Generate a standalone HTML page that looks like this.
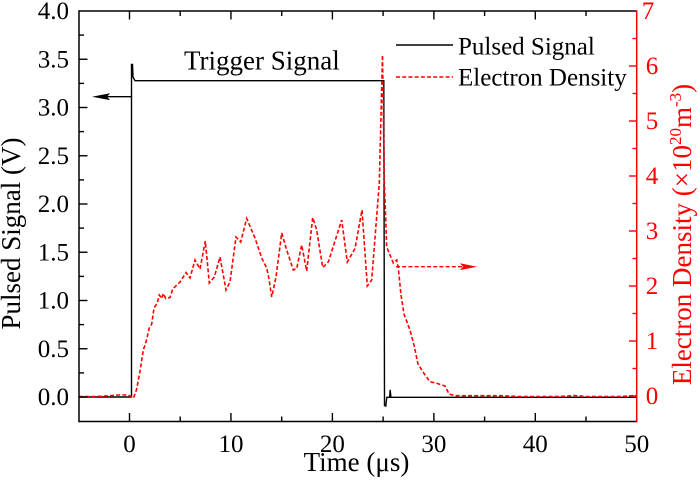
<!DOCTYPE html>
<html><head><meta charset="utf-8"><style>
html,body{margin:0;padding:0;background:#fff;}
svg{display:block;}
text{font-family:"Liberation Serif","Times New Roman",serif;}
</style></head><body>
<svg width="700" height="490" viewBox="0 0 700 490" xmlns="http://www.w3.org/2000/svg" font-family="Liberation Serif, serif">
<rect x="0" y="0" width="700" height="490" fill="#fff"/>

<!-- black pulsed signal -->
<path d="M79,397 L131.5,397 L131.5,64.5 L132.5,64.5 L133,77 L135,80.7 L383.8,80.7 L384.5,405.5 L385.8,406 L386.8,397.3 L389.6,397.3 L390.2,389.8 L390.9,397.3 L636.7,397.3" fill="none" stroke="#000" stroke-width="1.4"/>

<!-- red electron density -->
<polyline fill="none" stroke="#ff0000" stroke-width="1.6" stroke-dasharray="4 2.2" points="79,396.5 95,396.5 105,396 112,395.5 118,395 128,395 131,396.5 133.5,398 136.7,389 140,371 143.3,350 146,342 149.3,328 151.7,324 154,308 157.3,303 159.3,295 161.7,298.5 163.3,293.5 165.7,298.5 170,297.5 172.7,289 180,282 186,272.5 190,278 195,260 200,269 205.3,241 209.3,283 214.3,277 220,257 226,290 230,282 236,237 240.7,242 246.7,218.5 255,238 261.7,258 266.7,268 269,279 271.7,297 276,277 281.7,233 286.7,250 293.3,270 296.7,268.5 301.7,245 306.7,271 312.7,217.5 316.7,230 322.7,267.5 328.3,262 341.7,220 347.3,262 355,248.5 362,210 367.3,286 371.7,280 379.3,183 382.5,55 384.3,180 386.7,247 393.3,263 396.7,260 398.3,268 401,295 404,314 410,330 414,345 418,364 425,375 430,381.7 436.7,383.3 445,386 449,394 455,395.7 500,395.7 520,396.5 560,396.5 575,395.5 585,396.5 620,396.5 636,395.5"/>

<!-- arrows -->
<line x1="132" y1="96.7" x2="106" y2="96.7" stroke="#000" stroke-width="1.4"/>
<polygon points="92,96.7 110,93.3 107,96.7 110,100.1" fill="#000"/>
<line x1="396" y1="266.7" x2="462" y2="266.7" stroke="#ff0000" stroke-width="1.4" stroke-dasharray="4 2.2"/>
<polygon points="477,266.7 460,263.3 463,266.7 460,270.1" fill="#ff0000"/>

<!-- axes frame -->
<line x1="79" y1="11" x2="636.7" y2="11" stroke="#000" stroke-width="1.5"/>
<line x1="79" y1="421.5" x2="636.7" y2="421.5" stroke="#000" stroke-width="1.5"/>
<line x1="79" y1="10.3" x2="79" y2="422.2" stroke="#000" stroke-width="1.5"/>
<line x1="636.7" y1="10.3" x2="636.7" y2="422.2" stroke="#ff0000" stroke-width="1.5"/>

<!-- bottom & top ticks -->
<g stroke="#000" stroke-width="1.4">
<line x1="129.5" y1="421.5" x2="129.5" y2="413"/><line x1="230.95" y1="421.5" x2="230.95" y2="413"/><line x1="332.4" y1="421.5" x2="332.4" y2="413"/><line x1="433.9" y1="421.5" x2="433.9" y2="413"/><line x1="535.3" y1="421.5" x2="535.3" y2="413"/>
<line x1="180.2" y1="421.5" x2="180.2" y2="416.5"/><line x1="281.7" y1="421.5" x2="281.7" y2="416.5"/><line x1="383.1" y1="421.5" x2="383.1" y2="416.5"/><line x1="484.6" y1="421.5" x2="484.6" y2="416.5"/><line x1="586" y1="421.5" x2="586" y2="416.5"/>
<line x1="129.5" y1="11" x2="129.5" y2="19.5"/><line x1="230.95" y1="11" x2="230.95" y2="19.5"/><line x1="332.4" y1="11" x2="332.4" y2="19.5"/><line x1="433.9" y1="11" x2="433.9" y2="19.5"/><line x1="535.3" y1="11" x2="535.3" y2="19.5"/>
<line x1="180.2" y1="11" x2="180.2" y2="16"/><line x1="281.7" y1="11" x2="281.7" y2="16"/><line x1="383.1" y1="11" x2="383.1" y2="16"/><line x1="484.6" y1="11" x2="484.6" y2="16"/><line x1="586" y1="11" x2="586" y2="16"/>
<!-- left ticks -->
<line x1="79" y1="397" x2="87.5" y2="397"/><line x1="79" y1="348.75" x2="87.5" y2="348.75"/><line x1="79" y1="300.5" x2="87.5" y2="300.5"/><line x1="79" y1="252.25" x2="87.5" y2="252.25"/><line x1="79" y1="204" x2="87.5" y2="204"/><line x1="79" y1="155.75" x2="87.5" y2="155.75"/><line x1="79" y1="107.5" x2="87.5" y2="107.5"/><line x1="79" y1="59.25" x2="87.5" y2="59.25"/>
<line x1="79" y1="372.9" x2="84" y2="372.9"/><line x1="79" y1="324.6" x2="84" y2="324.6"/><line x1="79" y1="276.4" x2="84" y2="276.4"/><line x1="79" y1="228.1" x2="84" y2="228.1"/><line x1="79" y1="179.9" x2="84" y2="179.9"/><line x1="79" y1="131.6" x2="84" y2="131.6"/><line x1="79" y1="83.4" x2="84" y2="83.4"/><line x1="79" y1="35.1" x2="84" y2="35.1"/>
</g>
<!-- right ticks -->
<g stroke="#ff0000" stroke-width="1.4">
<line x1="636.7" y1="396" x2="629" y2="396"/><line x1="636.7" y1="341" x2="629" y2="341"/><line x1="636.7" y1="286" x2="629" y2="286"/><line x1="636.7" y1="231" x2="629" y2="231"/><line x1="636.7" y1="176" x2="629" y2="176"/><line x1="636.7" y1="121" x2="629" y2="121"/><line x1="636.7" y1="66" x2="629" y2="66"/>
<line x1="636.7" y1="368.5" x2="632.5" y2="368.5"/><line x1="636.7" y1="313.5" x2="632.5" y2="313.5"/><line x1="636.7" y1="258.5" x2="632.5" y2="258.5"/><line x1="636.7" y1="203.5" x2="632.5" y2="203.5"/><line x1="636.7" y1="148.5" x2="632.5" y2="148.5"/><line x1="636.7" y1="93.5" x2="632.5" y2="93.5"/><line x1="636.7" y1="38.5" x2="632.5" y2="38.5"/>
</g>

<!-- left tick labels -->
<g font-size="25" text-anchor="end" fill="#000" font-family="Liberation Serif, serif">
<text x="69" y="405">0.0</text>
<text x="69" y="356.75">0.5</text>
<text x="69" y="308.5">1.0</text>
<text x="69" y="260.25">1.5</text>
<text x="69" y="212">2.0</text>
<text x="69" y="163.75">2.5</text>
<text x="69" y="115.5">3.0</text>
<text x="69" y="67.25">3.5</text>
<text x="69" y="19">4.0</text>
</g>
<!-- bottom tick labels -->
<g font-size="25" text-anchor="middle" fill="#000" font-family="Liberation Serif, serif">
<text x="129.5" y="452">0</text>
<text x="230.95" y="452">10</text>
<text x="332.4" y="452">20</text>
<text x="433.9" y="452">30</text>
<text x="535.3" y="452">40</text>
<text x="636.8" y="452">50</text>
</g>
<!-- right tick labels -->
<g font-size="25" text-anchor="middle" fill="#ff0000" font-family="Liberation Serif, serif">
<text x="652" y="404">0</text>
<text x="652" y="349">1</text>
<text x="652" y="294">2</text>
<text x="652" y="239">3</text>
<text x="652" y="184">4</text>
<text x="652" y="129">5</text>
<text x="652" y="74">6</text>
<text x="648" y="19">7</text>
</g>

<!-- axis titles -->
<text x="356.5" y="471" font-size="27" text-anchor="middle" fill="#000">Time (μs)</text>
<text transform="translate(20,233.5) rotate(-90)" font-size="27" text-anchor="middle" fill="#000">Pulsed Signal (V)</text>
<text transform="translate(691,234.5) rotate(-90)" font-size="27" text-anchor="middle" fill="#ff0000">Electron Density (×10<tspan font-size="17" dy="-10">20</tspan><tspan dy="10">m</tspan><tspan font-size="17" dy="-10">-3</tspan><tspan dy="10">)</tspan></text>

<!-- annotation -->
<text x="184" y="69.5" font-size="27" fill="#000">Trigger Signal</text>

<!-- legend -->
<line x1="396" y1="45" x2="453" y2="45" stroke="#000" stroke-width="1.4"/>
<line x1="396" y1="77" x2="453" y2="77" stroke="#ff0000" stroke-width="1.4" stroke-dasharray="4 2.2"/>
<text x="458" y="54.5" font-size="25" fill="#000">Pulsed Signal</text>
<text x="458" y="85.5" font-size="25" fill="#000">Electron Density</text>
</svg>
</body></html>
